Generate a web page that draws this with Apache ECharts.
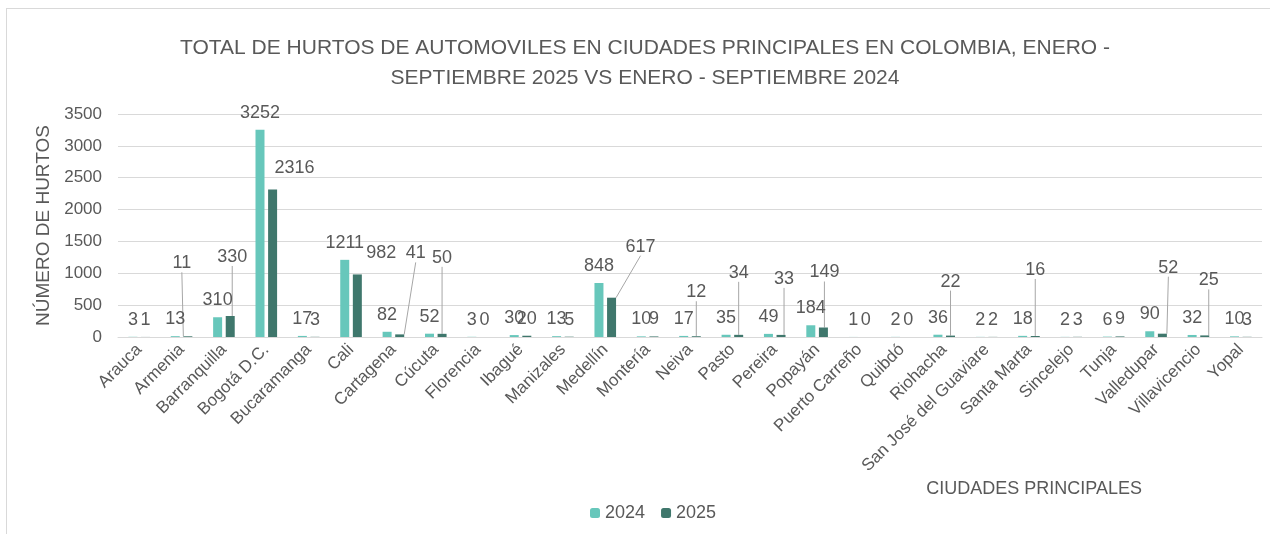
<!DOCTYPE html>
<html>
<head>
<meta charset="utf-8">
<script src="https://cdn.jsdelivr.net/npm/echarts@6/dist/echarts.min.js"></script>
<style>
  html, body { margin: 0; padding: 0; background: #fff; }
  #main { width: 1270px; height: 534px; }
  #marco { position: absolute; left: 6px; top: 8px; width: 1264px; height: 526px;
           border-left: 1px solid #d9d9d9; border-top: 1px solid #d9d9d9; pointer-events: none; }
</style>
</head>
<body>
<div id="main"></div>
<div id="marco"></div>
<script>
var ciudades = ['Arauca', 'Armenia', 'Barranquilla', 'Bogotá D.C.', 'Bucaramanga', 'Cali', 'Cartagena', 'Cúcuta',
  'Florencia', 'Ibagué', 'Manizales', 'Medellín', 'Montería', 'Neiva', 'Pasto', 'Pereira', 'Popayán',
  'Puerto Carreño', 'Quibdó', 'Riohacha', 'San José del Guaviare', 'Santa Marta', 'Sincelejo', 'Tunja',
  'Valledupar', 'Villavicencio', 'Yopal'];
var hurtos2024 = [3, 13, 310, 3252, 17, 1211, 82, 52, 3, 30, 13, 848, 10, 17, 35, 49, 184, 1, 2, 36, 2, 18, 2, 6, 90, 32, 10];
var hurtos2025 = [1, 11, 330, 2316, 3, 982, 41, 50, 0, 20, 5, 617, 9, 12, 34, 33, 149, 0, 0, 22, 2, 16, 3, 9, 52, 25, 3];
var yTicks = [0, 500, 1000, 1500, 2000, 2500, 3000, 3500];

// desplazamiento manual de etiquetas 2025 [dx, dy, con línea guía]
var mover2025 = {1: [-6, -56, 1], 2: [2, -42, 1], 3: [22, -4, 0], 5: [24, -4, 0], 6: [16, -64, 1], 7: [0, -59, 1],
  11: [29, -34, 1], 13: [0, -27, 1], 14: [0, -45, 1], 15: [3, -39, 1], 16: [1, -38, 1],
  19: [0, -37, 1], 21: [0, -49, 1], 24: [6, -49, 1], 25: [4, -38, 1]};

var fuente = '"Liberation Sans Narrow", "Arial Narrow", "Liberation Sans", sans-serif';
var gris = '#595959';

var datos2025 = hurtos2025.map(function (v, i) {
  var m = mover2025[i];
  return m && m[2] ? { value: v, labelLine: { show: true } } : v;
});

var chart = echarts.init(document.getElementById('main'));
chart.setOption({
  animation: false,
  title: {
    text: 'TOTAL DE HURTOS DE AUTOMOVILES EN CIUDADES PRINCIPALES EN COLOMBIA, ENERO -\nSEPTIEMBRE 2025 VS ENERO - SEPTIEMBRE 2024',
    left: 640, top: 28, textAlign: 'center',
    textStyle: { color: gris, fontFamily: fuente, fontWeight: 'normal', fontSize: 21, lineHeight: 30 }
  },
  legend: {
    data: ['2024', '2025'], top: 499, left: 585,
    itemWidth: 10, itemHeight: 10, itemGap: 16,
    textStyle: { color: gris, fontFamily: fuente, fontSize: 18 }
  },
  grid: { left: 118, right: 8, top: 114, bottom: 197 },
  xAxis: {
    type: 'category', data: ciudades,
    name: 'CIUDADES PRINCIPALES', nameLocation: 'end',
    nameGap: 0,
    nameTextStyle: { color: gris, fontFamily: fuente, fontSize: 18, align: 'right', verticalAlign: 'top', padding: [143, 120, 0, 0] },
    axisLine: { lineStyle: { color: '#d9d9d9' } },
    axisTick: { show: false },
    axisLabel: { rotate: 45, interval: 0, color: gris, fontFamily: fuente, fontSize: 17, margin: 10 }
  },
  yAxis: {
    type: 'value', min: yTicks[0], max: yTicks[yTicks.length - 1], interval: yTicks[1] - yTicks[0],
    name: 'NÚMERO DE HURTOS', nameLocation: 'middle', nameGap: 60,
    nameTextStyle: { color: gris, fontFamily: fuente, fontSize: 19 },
    axisLabel: { color: gris, fontFamily: fuente, fontSize: 17, margin: 16, formatter: function (v) { return String(v); } },
    splitLine: { lineStyle: { color: '#d9d9d9' } },
    axisLine: { show: false }, axisTick: { show: false }
  },
  series: [
    {
      name: '2024', type: 'bar', data: hurtos2024, barWidth: 9, barGap: '40%',
      itemStyle: { color: '#67C7BB' },
      label: { show: true, position: 'top', distance: 8, color: gris, fontFamily: fuente, fontSize: 18 }
    },
    {
      name: '2025', type: 'bar', data: datos2025, barWidth: 9,
      itemStyle: { color: '#3F776C' },
      label: { show: true, position: 'top', distance: 8, color: gris, fontFamily: fuente, fontSize: 18 },
      labelLine: { show: false, lineStyle: { color: '#a6a6a6', width: 1 } },
      labelLayout: function (p) {
        var m = mover2025[p.dataIndex];
        return m ? { dx: m[0], dy: m[1] } : {};
      }
    }
  ]
});
</script>
</body>
</html>
